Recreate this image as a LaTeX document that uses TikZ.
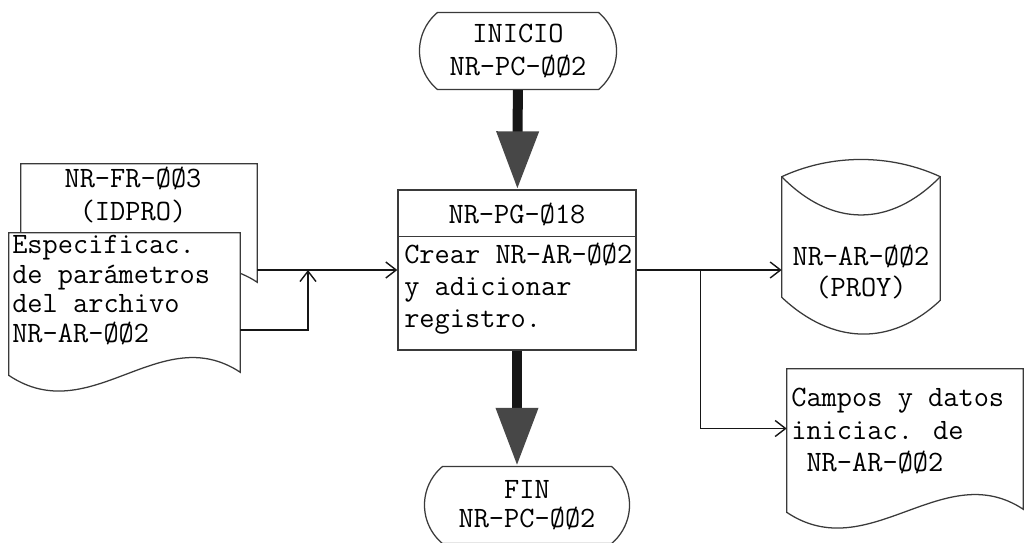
\documentclass[tikz,border=0pt]{standalone}
\usepackage{tikz}
\usetikzlibrary{
  arrows.meta,
  shapes.misc,
  positioning,
  calc
}
\definecolor{fcLine}{HTML}{3A3A3A}
\definecolor{fcFlow}{HTML}{161616}
\definecolor{fcTip}{HTML}{474747}
\tikzset{
  fctext/.style={font=\ttfamily\fontsize{21}{24}\selectfont, align=center, inner sep=0pt},
  terminal/.style={
    fctext, draw=fcLine, line width=0.9pt, rounded rectangle,
    rounded rectangle arc length=100, minimum width=4.925cm, minimum height=1.925cm
  },
  procbox/.style={draw=fcLine, line width=0.9pt, minimum width=5.95cm, minimum height=4cm, inner sep=0pt},
  procline/.style={draw=fcLine, line width=0.9pt},
  docarea/.style={inner sep=0pt},
  docline/.style={draw=fcLine, line width=0.9pt, fill=white},
  flow/.style={-{Straight Barb[length=2.6mm, width=4mm]}, line width=1pt, fcFlow},
  bigflow/.style={line width=2.5mm, fcFlow, -{Triangle[length=14.5mm, width=10mm, fill=fcTip, color=fcTip]}}
}
% document symbol drawn round an empty node
\newcommand{\docoutline}[1]{%
  \path[docline] (#1.south west) -- (#1.north west) -- (#1.north east) -- ($(#1.south east)+(0,-3)$)
    .. controls +(-80,-53) and +(82,55) .. (#1.south west) -- cycle;}

\begin{document}
\begin{tikzpicture}[x=0.025cm, y=-0.025cm]
  \useasboundingbox (0,0) rectangle (1024,542);

  % main program
  \node[terminal] (inicio) at (518,51) {INICIO\\NR-PC-ØØ2};
  \node[procbox] (pg) at (517,270) {};
  \draw[procline] ($(pg.north west)+(0,47)$) -- ($(pg.north east)+(0,47)$);
  \node[fctext] (pghead) at (517,214) {NR-PG-Ø18};
  \node[fctext, align=left, anchor=north west, font=\ttfamily\fontsize{21}{22.5}\selectfont]
    (pgbody) at (404,243) {Crear NR-AR-ØØ2\\y adicionar\\registro.};
  \node[terminal, minimum width=5.125cm, font=\ttfamily\fontsize{21}{21}\selectfont]
    (fin) at (527,505) {FIN\\NR-PC-ØØ2};

  % documents and file
  \node[docarea, minimum width=5.9cm, minimum height=3.025cm] (fr) at (139,224.5) {};
  \node[docarea, minimum width=5.775cm, minimum height=3.55cm] (spec) at (124.5,304) {};
  \node[docarea, minimum width=5.9cm, minimum height=3.575cm] (campos) at (905,440.5) {};
  \node[docarea, minimum width=3.95cm, minimum height=3cm] (proy) at (861,237) {};
  \foreach \d in {fr,spec,campos} {\docoutline{\d}}
  \path[docline] (proy.north west) .. controls +(50,-23) and +(-50,-23) .. (proy.north east)
    -- ($(proy.south east)+(0,3)$) .. controls +(-50,47) and +(50,47) .. (proy.south west) -- cycle;
  \draw[procline] (proy.north west) .. controls +(50,51) and +(-50,51) .. (proy.north east);

  \node[fctext] (frtext) at (133,195) {NR-FR-ØØ3\\(IDPRO)};
  \node[fctext, align=left, anchor=north west, font=\ttfamily\fontsize{21}{21}\selectfont]
    (spectext) at (12,235) {Especificac.\\de parámetros\\del archivo\\NR-AR-ØØ2};
  \node[fctext, font=\ttfamily\fontsize{21}{22}\selectfont] (proytext) at (861,272) {NR-AR-ØØ2\\(PROY)};
  \node[fctext, align=left, anchor=north west, font=\ttfamily\fontsize{21}{23}\selectfont]
    (campostext) at (791,388) {Campos y datos\\iniciac. de\\\phantom{N}NR-AR-ØØ2};

  % flow
  \draw[bigflow] (inicio) -- (pg);
  \draw[bigflow] (pg) -- (pg.south |- fin.north);
  \coordinate (join) at (308,270);
  \coordinate (split) at ($(pg.east)+(64,0)$);
  \draw[flow] (fr.east |- pg.west) -- (pg.west);
  \draw[flow] ($(spec.east)+(0,26)$) -| (join);
  \draw[flow] (pg.east) -- (proy.west |- pg.east);
  \draw[flow] (split) |- ($(campos.west)+(0,-12)$);
\end{tikzpicture}
\end{document}
